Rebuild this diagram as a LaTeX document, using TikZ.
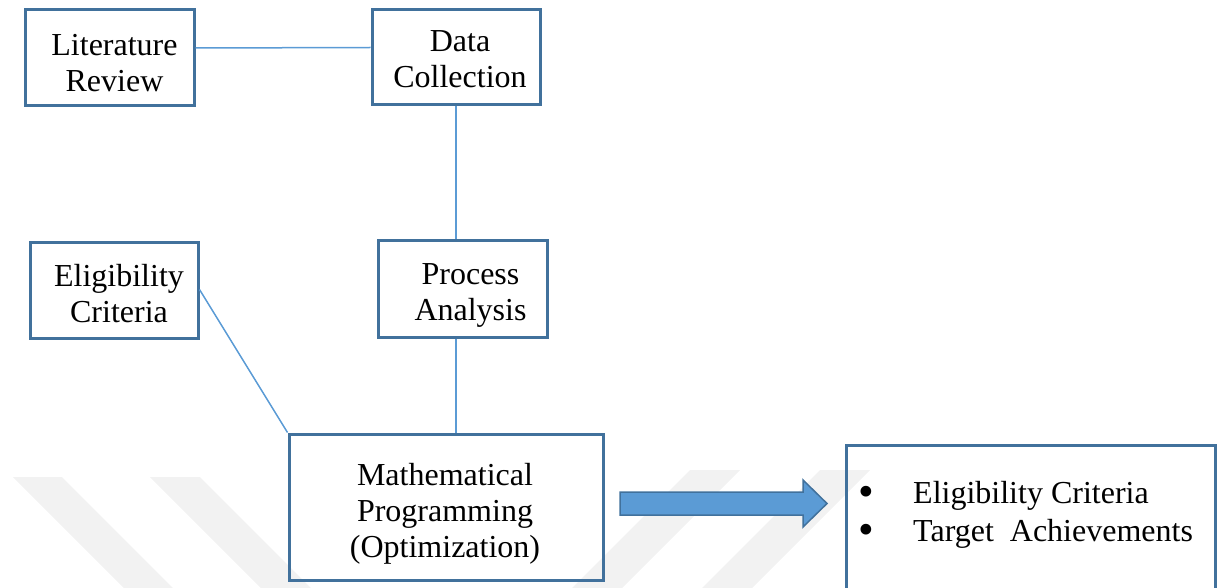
\documentclass[tikz,border=0pt]{standalone}
\usepackage{fontspec}
\setmainfont{Liberation Serif}

\definecolor{boxline}{HTML}{41719C}
\definecolor{linkline}{HTML}{5B9BD5}
\definecolor{arrowfill}{HTML}{5B9BD5}
\definecolor{wmark}{gray}{0.95}

\tikzset{
  stage/.style={draw=boxline, line width=3pt, inner sep=0pt},
  caption/.style={align=center, inner sep=0pt, font=\fontsize{32}{36}\selectfont},
  item/.style={inner sep=0pt, font=\fontsize{32}{36}\selectfont},
  link/.style={draw=linkline, line width=1.5pt},
}
\newcommand{\listdot}{\makebox[55pt][l]{\raisebox{-3pt}{\scalebox{1.4}{\textbullet}}}}

\begin{document}
\begin{tikzpicture}[x=1pt,y=-1pt]
  \useasboundingbox (0,0) rectangle (1221,588);

  % faint stripes in the background
  \fill[wmark] (13,477) -- (62,477) -- (173,588) -- (124,588) -- cycle;
  \fill[wmark] (150,477) -- (200,477) -- (311,588) -- (261,588) -- cycle;
  \fill[wmark] (690,470) -- (740,470) -- (622,588) -- (572,588) -- cycle;
  \fill[wmark] (820,470) -- (870,470) -- (752,588) -- (702,588) -- cycle;

  % boxes
  \node[stage, minimum width=169pt, minimum height=96pt] (lit) at (109.5,58) {};
  \node[stage, minimum width=168pt, minimum height=95pt] (data) at (456,57.5) {};
  \node[stage, minimum width=168pt, minimum height=95pt] (elig) at (114,290.5) {};
  \node[stage, minimum width=169pt, minimum height=96pt] (proc) at (462.5,289) {};
  \node[stage, minimum width=314pt, minimum height=146pt] (math) at (446,507) {};
  \node[stage, minimum width=369pt, minimum height=170pt, anchor=north west] (out) at (845,444) {};

  % box texts
  \node[caption] (littext) at ([shift={(5,5)}]lit) {Literature\\Review};
  \node[caption] (datatext) at ([shift={(4,2)}]data) {Data\\Collection};
  \node[caption] (eligtext) at ([shift={(5,3)}]elig) {Eligibility\\Criteria};
  \node[caption] (proctext) at ([shift={(8,6)}]proc) {Process\\Analysis};
  \node[caption] (mathtext) at ([shift={(-1,7)}]math) {Mathematical\\Programming\\(Optimization)};

  % outcome list
  \node[item, anchor=base west] (crit) at (858,503) {\listdot Eligibility Criteria};
  \node[item, anchor=base west] (target) at (858,541) {\listdot Target\ \ Achievements};

  % links
  \begin{scope}[link]
    \draw ([yshift=10pt]lit.east) to ([yshift=10pt]data.west);
    \draw (data.south) to (data.south |- proc.north);
    \draw (data.south |- proc.south) to (data.south |- math.north);
    \draw ([yshift=1pt]elig.east) to (math.north west);
  \end{scope}

  % block arrow to the outcomes
  \draw[draw=boxline, fill=arrowfill, line width=1.5pt]
    (620,492) -- (803,492) -- (803,480) -- (827,503.5) -- (803,527) -- (803,515) -- (620,515) -- cycle;
\end{tikzpicture}
\end{document}
